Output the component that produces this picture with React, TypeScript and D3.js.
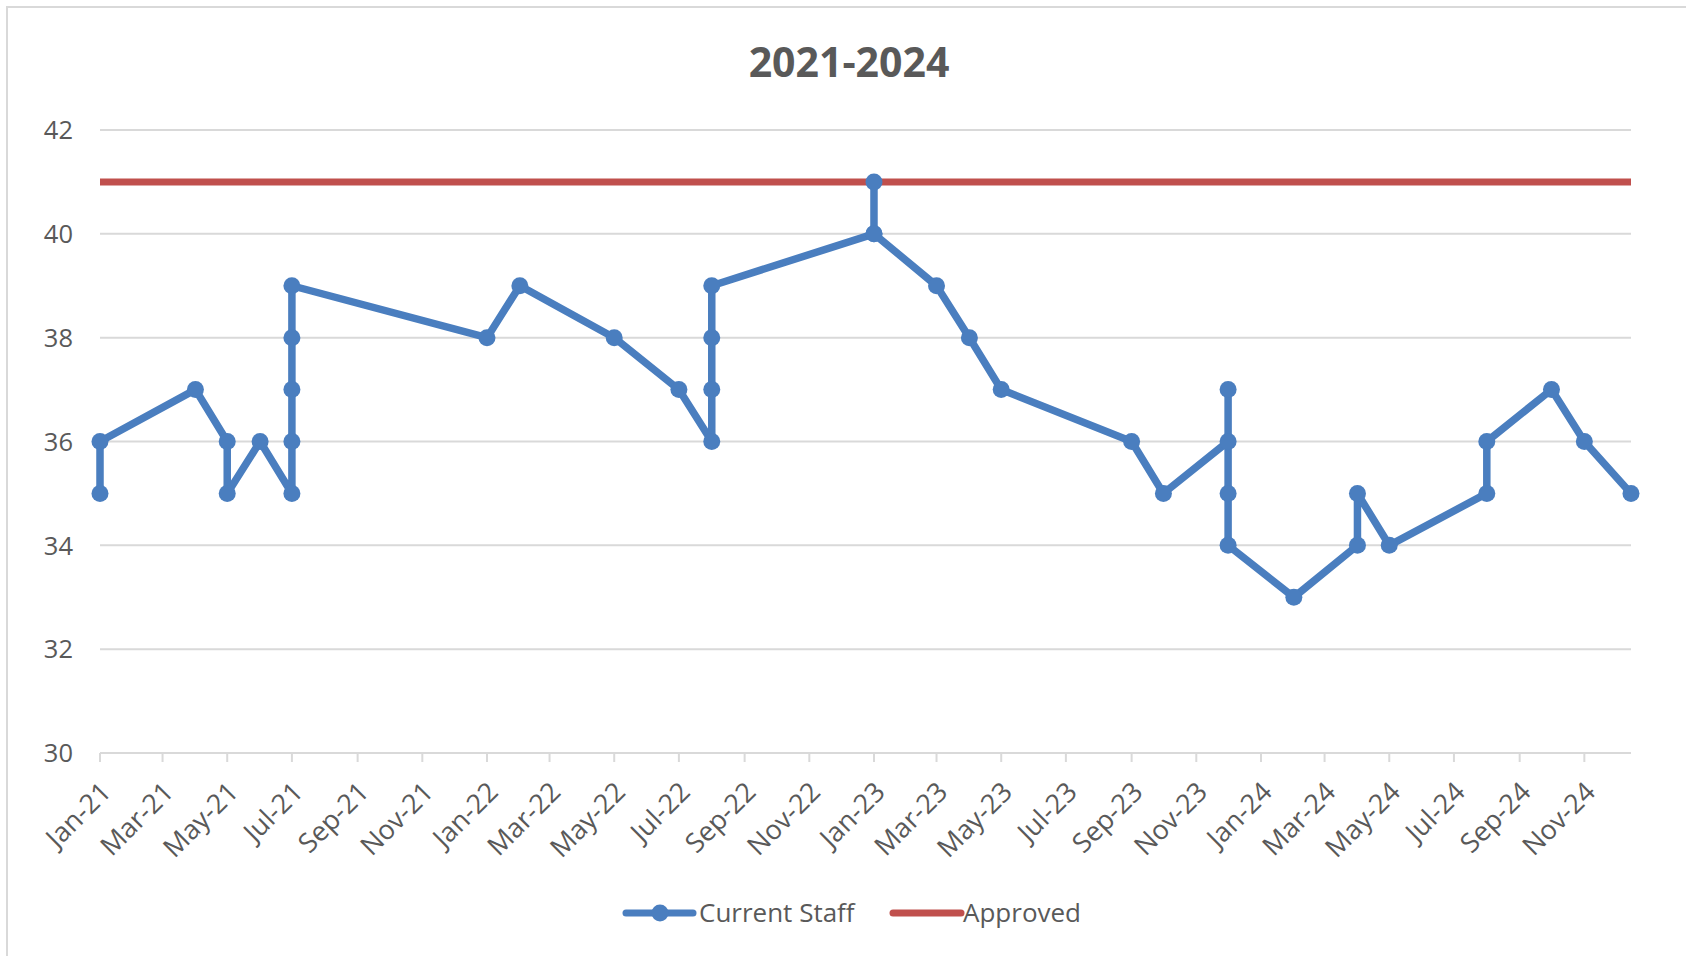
import React from 'react';
import * as d3 from 'd3';

// staff counts by entry date (several entries can share a date)
const staffDates = [
  '2021-01-01', '2021-01-01', '2021-04-01', '2021-05-01', '2021-05-01', '2021-06-01',
  '2021-07-01', '2021-07-01', '2021-07-01', '2021-07-01', '2021-07-01',
  '2022-01-01', '2022-02-01', '2022-05-01', '2022-07-01',
  '2022-08-01', '2022-08-01', '2022-08-01', '2022-08-01',
  '2023-01-01', '2023-01-01', '2023-01-01', '2023-03-01', '2023-04-01', '2023-05-01',
  '2023-09-01', '2023-10-01', '2023-12-01', '2023-12-01', '2023-12-01', '2023-12-01',
  '2024-02-01', '2024-04-01', '2024-04-01', '2024-05-01', '2024-08-01', '2024-08-01',
  '2024-10-01', '2024-11-01', '2024-12-15',
];
const staffValues = [
  35, 36, 37, 36, 35, 36,
  35, 36, 37, 38, 39,
  38, 39, 38, 37,
  36, 37, 38, 39,
  40, 41, 40, 39, 38, 37,
  36, 35, 36, 37, 35, 34,
  33, 34, 35, 34, 35, 36,
  37, 36, 35,
];

const approvedDates = ['2021-01-01', '2024-12-15'];
const approvedValues = [41, 41];

const yTicks = [30, 32, 34, 36, 38, 40, 42];
const title = '2021-2024';
const seriesNames = ['Current Staff', 'Approved'];

const W = 1686;
const H = 956;
const margin = { left: 100, right: 1631, top: 130, bottom: 753 };
const blue = '#4a7ebf';
const red = '#c0504d';
const grey = '#595959';
const font = '"Open Sans", "Noto Sans", sans-serif';

type Pt = { date: Date; value: number };

const parse = d3.timeParse('%Y-%m-%d');

export default function App() {
  const staff: Pt[] = staffDates.map((d, i) => ({ date: parse(d)!, value: staffValues[i] }));
  const approved: Pt[] = approvedDates.map((d, i) => ({ date: parse(d)!, value: approvedValues[i] }));

  const x = d3.scaleTime()
    .domain(d3.extent(staff, d => d.date) as [Date, Date])
    .range([margin.left, margin.right]);
  const y = d3.scaleLinear().domain([30, 42]).range([margin.bottom, margin.top]);

  const line = d3.line<Pt>().x(d => x(d.date)).y(d => y(d.value));
  const xTicks = x.ticks(d3.timeMonth.every(2)!);
  const fmt = d3.timeFormat('%b-%y');

  return (
    <svg width={W} height={H} style={{ position: 'absolute', left: 0, top: 0, background: '#fff' }}>
      <rect x={7} y={7} width={W} height={H} fill="#fff" stroke="#d9d9d9" strokeWidth={2} />

      <text x={849} y={77} textAnchor="middle" fontFamily={font} fontWeight="bold"
        fontSize={41} fill={grey}>{title}</text>

      {/* gridlines + y labels */}
      {yTicks.map(t => (
        <g key={t}>
          <line x1={margin.left} x2={margin.right} y1={y(t)} y2={y(t)} stroke="#d9d9d9" strokeWidth={2} />
          <text x={73} y={y(t)} dy="0.36em" textAnchor="end" fontFamily={font} fontSize={25.5} fill={grey}>{t}</text>
        </g>
      ))}

      {/* x axis ticks and rotated labels */}
      {xTicks.map(t => (
        <g key={t.getTime()}>
          <line x1={x(t)} x2={x(t)} y1={margin.bottom} y2={margin.bottom + 9} stroke="#d9d9d9" strokeWidth={2} />
          <text transform={`translate(${x(t) + 6},${margin.bottom + 34}) rotate(-45)`} dy="0.35em"
            textAnchor="end" fontFamily={font} fontSize={27} fill={grey}>{fmt(t)}</text>
        </g>
      ))}

      <path d={line(approved)!} fill="none" stroke={red} strokeWidth={7} />
      <path d={line(staff)!} fill="none" stroke={blue} strokeWidth={7.5} strokeLinejoin="round" />
      {staff.map((d, i) => (
        <circle key={i} cx={x(d.date)} cy={y(d.value)} r={8.5} fill={blue} />
      ))}

      {/* legend */}
      <g fontFamily={font} fontSize={26} fill={grey}>
        <line x1={626} x2={693} y1={913} y2={913} stroke={blue} strokeWidth={7} strokeLinecap="round" />
        <circle cx={660} cy={913} r={8.5} fill={blue} />
        <text x={699} y={913} dy="0.35em">{seriesNames[0]}</text>
        <line x1={893} x2={961} y1={913} y2={913} stroke={red} strokeWidth={7} strokeLinecap="round" />
        <text x={963} y={913} dy="0.35em">{seriesNames[1]}</text>
      </g>
    </svg>
  );
}
